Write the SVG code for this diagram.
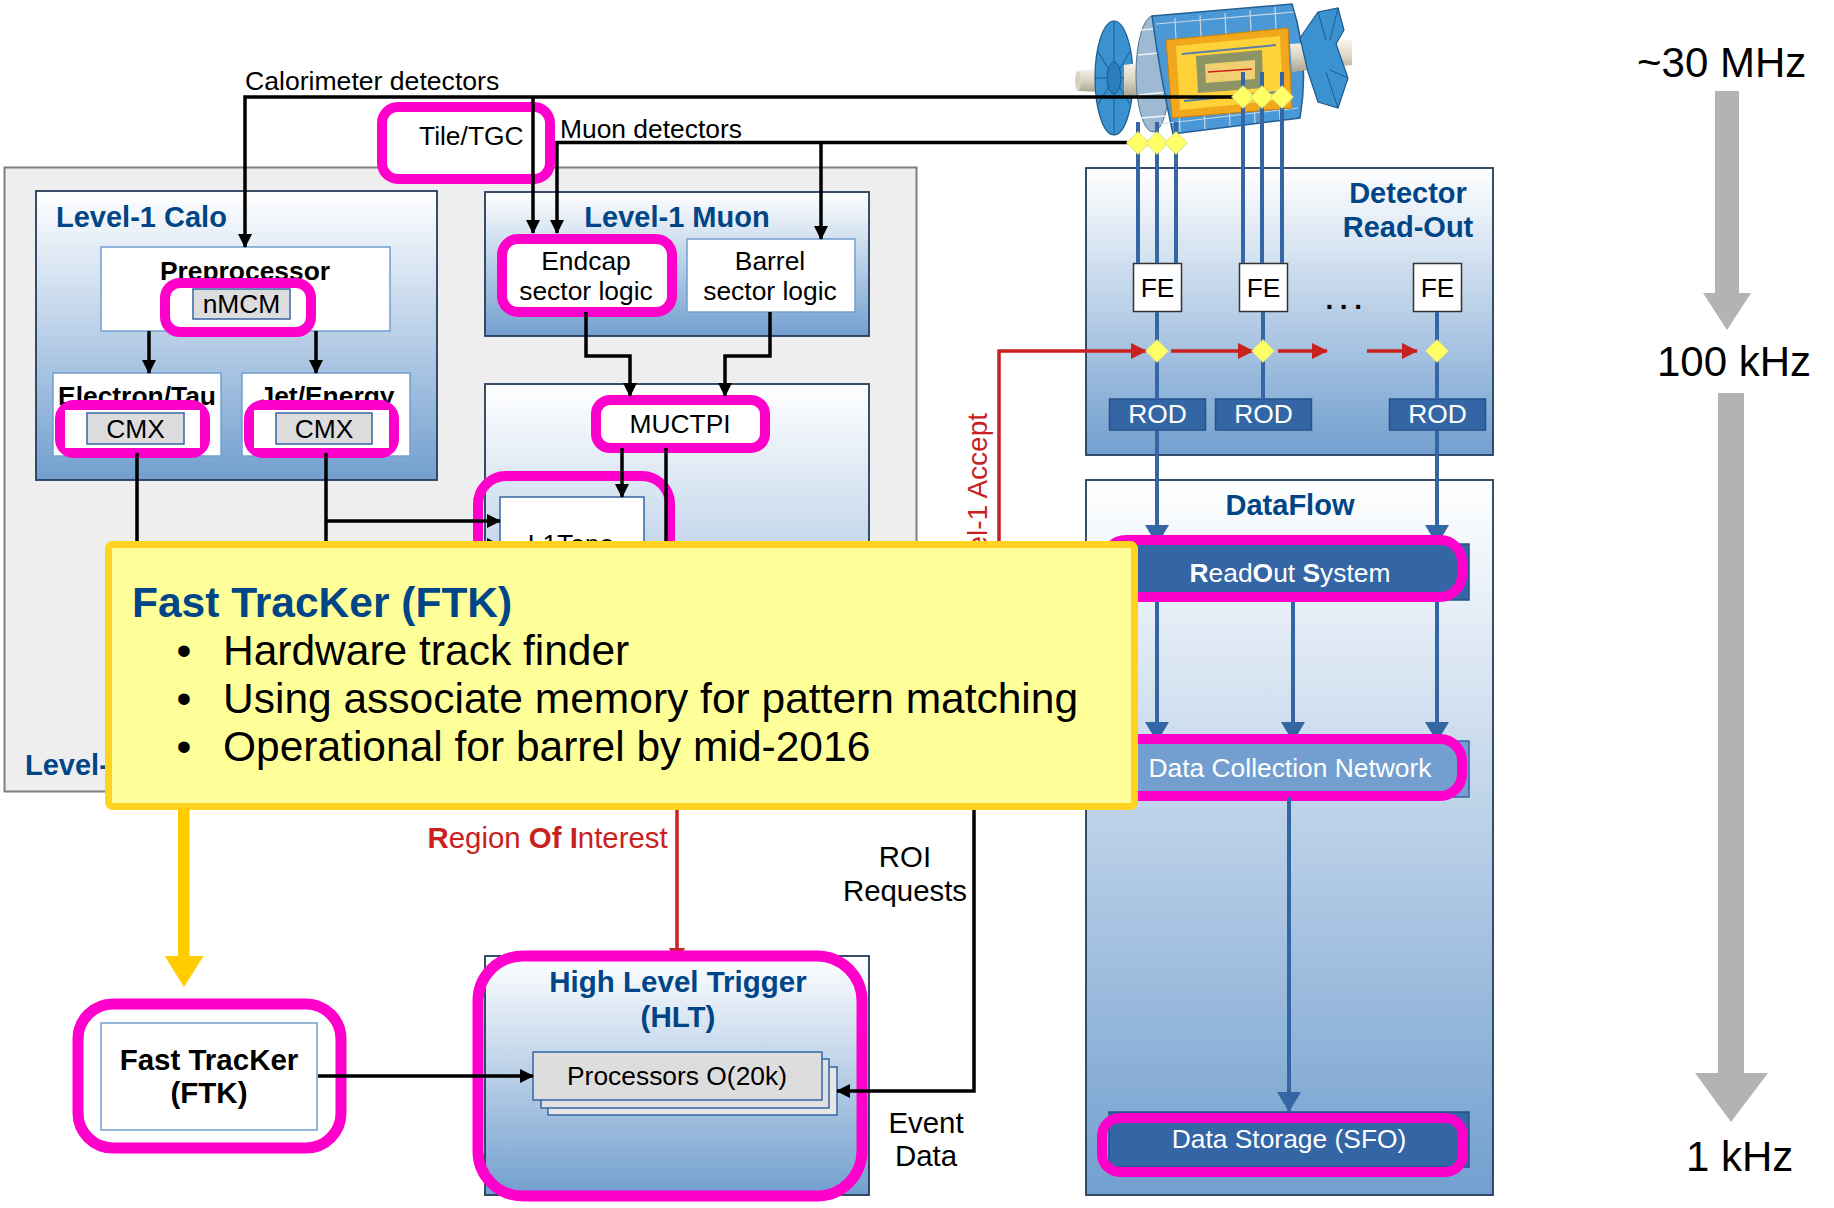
<svg xmlns="http://www.w3.org/2000/svg" width="1834" height="1208" viewBox="0 0 1834 1208">
<defs>
  <style>
    text { font-family: 'Liberation Sans', Arial, sans-serif; }
    .lbl { font-size: 26.4px; fill: #000; }
    .lbl28 { font-size: 29.4px; fill: #000; }
    .title { font-size: 29px; font-weight: bold; fill: #004586; }
    .mid { text-anchor: middle; }
    .b { font-weight: bold; }
    .white { fill: #ffffff; }
    .red { fill: #c9211e; }
    .container { fill: url(#boxGrad); stroke: #253b59; stroke-width: 1.8; }
    .inner { fill: #ffffff; stroke: #729fcf; stroke-width: 1.5; }
    .chip { fill: #dddddd; stroke: #3465a4; stroke-width: 1.5; }
    .hl { fill: none; stroke: #ff00cc; stroke-width: 10; }
    .hlw { fill: #ffffff; stroke: #ff00cc; stroke-width: 10; }
    .dark { fill: #3465a4; stroke: #24528c; stroke-width: 1.5; }
    .light { fill: #729fcf; stroke: #3465a4; stroke-width: 1.5; }
    .wire { fill: none; stroke: #000000; stroke-width: 3.5; }
    .wire-red { fill: none; stroke: #c9211e; stroke-width: 3.5; }
    .wire-blue { fill: none; stroke: #3465a4; stroke-width: 4; }
    .rate { font-size: 42px; fill: #000; }
    .callout { font-size: 42.5px; fill: #000; }
  </style>
  <linearGradient id="boxGrad" x1="0" y1="0" x2="0" y2="1">
    <stop offset="0" stop-color="#ffffff"/>
    <stop offset="1" stop-color="#729fcf"/>
  </linearGradient>
  <linearGradient id="pipeGrad" x1="0" y1="0" x2="0" y2="1">
    <stop offset="0" stop-color="#f7f4ea"/>
    <stop offset="0.5" stop-color="#ddd7c6"/>
    <stop offset="1" stop-color="#aaa491"/>
  </linearGradient>
  <marker id="arrowBlack" markerUnits="userSpaceOnUse" markerWidth="14" markerHeight="14" viewBox="0 0 14 14" refX="13" refY="7" orient="auto">
    <path d="M0,0 L14,7 L0,14 Z" fill="#000000"/>
  </marker>
  <marker id="arrowBlue" markerUnits="userSpaceOnUse" markerWidth="20" markerHeight="24" viewBox="0 0 20 24" refX="19" refY="12" orient="auto">
    <path d="M0,0 L20,12 L0,24 Z" fill="#3465a4"/>
  </marker>
  <marker id="arrowRed" markerUnits="userSpaceOnUse" markerWidth="16" markerHeight="16" viewBox="0 0 16 16" refX="15" refY="8" orient="auto">
    <path d="M0,0 L16,8 L0,16 Z" fill="#c9211e"/>
  </marker>
  <polygon id="diamond" points="0,-11.5 11.5,0 0,11.5 -11.5,0" fill="#ffff66" stroke="#d4d48c" stroke-width="0.8"/>
</defs>

<rect width="1834" height="1208" fill="#ffffff"/>

<!-- Level-1 trigger area -->
<g id="level1">
  <rect x="4.5" y="167.5" width="912" height="624" fill="#eeeeee" stroke="#7f7f7f" stroke-width="2"/>
  <text class="title" x="25" y="775">Level-</text>
</g>

<g id="level1-calo">
  <rect class="container" x="36" y="191" width="401" height="289"/>
  <text class="title" x="56" y="227">Level-1 Calo</text>
</g>

<g id="level1-muon">
  <rect class="container" x="485" y="192" width="384" height="144"/>
  <text class="title mid" x="677" y="227">Level-1 Muon</text>
</g>

<g id="central-area">
  <rect class="container" x="485" y="384" width="384" height="390"/>
</g>

<g id="detector-readout">
  <rect class="container" x="1086" y="168" width="407" height="287"/>
  <text class="title mid" x="1408" y="203">Detector</text>
  <text class="title mid" x="1408" y="237">Read-Out</text>
</g>

<g id="dataflow">
  <rect class="container" x="1086" y="480" width="407" height="715"/>
  <text class="title mid" x="1290" y="515">DataFlow</text>
</g>

<!-- ATLAS detector drawing -->
<g id="atlas-detector">
  <path d="M1078,71 L1102,68 L1102,92 L1078,91 Z" fill="url(#pipeGrad)"/>
  <ellipse cx="1078" cy="81" rx="3" ry="10" fill="#d8d3c2"/>
  <ellipse cx="1114" cy="78" rx="19" ry="57" fill="#3a93d0" stroke="#1d5a8c" stroke-width="1.2"/>
  <path d="M1114,21 L1114,135 M1097,50 L1131,106 M1097,106 L1131,50 M1095,78 L1133,78" stroke="#1d5a8c" stroke-width="1" fill="none"/>
  <ellipse cx="1114" cy="78" rx="7" ry="16" fill="#2b7dbd" stroke="#1d5a8c"/>
  <path d="M1124,65 L1146,62 L1146,95 L1124,96 Z" fill="url(#pipeGrad)"/>
  <ellipse cx="1153" cy="74" rx="17" ry="58" fill="#9dbad2" stroke="#4f7595" stroke-width="1"/>
  <path d="M1140,30 L1166,28 M1138,55 L1168,52 M1138,95 L1168,92 M1141,118 L1165,116" stroke="#eef3f7" stroke-width="1.5" fill="none"/>
  <path d="M1152,16 L1292,4 Q1310,60 1300,118 L1173,134 Q1160,75 1152,16 Z" fill="#4a98d6" stroke="#245f92" stroke-width="1.5"/>
  <path d="M1156,24 L1294,12 M1160,124 L1298,108 M1175,18 L1180,132 M1200,15 L1205,129 M1225,13 L1230,126 M1250,10 L1255,123 M1275,7 L1280,120" stroke="#c9d6e2" stroke-width="1.2" fill="none"/>
  <path d="M1166,40 L1288,28 L1292,108 L1172,118 Z" fill="#f2a81d" stroke="#c98010" stroke-width="1"/>
  <path d="M1176,46 L1280,36 L1283,100 L1180,110 Z" fill="#ffd23a"/>
  <path d="M1182,54 L1276,45 M1184,101 L1278,92" stroke="#5a7fa8" stroke-width="2" fill="none"/>
  <path d="M1196,56 L1262,50 L1263,88 L1198,93 Z" fill="#8d9566"/>
  <path d="M1205,64 L1255,60 L1255,79 L1206,83 Z" fill="#f0d070"/>
  <line x1="1208" y1="72" x2="1252" y2="69" stroke="#d02020" stroke-width="1.5"/>
  <path d="M1290,44 L1352,40 L1352,65 L1292,72 Z" fill="url(#pipeGrad)"/>
  <path d="M1312,40 L1330,39 L1330,70 L1312,72 Z" fill="#e6e1d2" stroke="#b8b2a0" stroke-width="1"/>
  <path d="M1300,38 L1318,12 L1338,8 L1344,30 L1336,44 L1348,78 L1338,108 L1318,102 L1308,72 Z" fill="#3a93d0" stroke="#1d5a8c" stroke-width="1.2"/>
  <path d="M1318,12 L1326,40 M1338,8 L1330,40 M1348,78 L1330,70 M1338,108 L1326,72" stroke="#1d5a8c" stroke-width="1" fill="none"/>
</g>

<!-- arrows that run beneath the highlight outlines -->
<g id="connectors-under">
  <path class="wire-red" d="M677,810 V963" marker-end="url(#arrowRed)"/>
  <path class="wire-blue" d="M1157,430 V544" marker-end="url(#arrowBlue)"/>
  <path class="wire-blue" d="M1437,430 V544" marker-end="url(#arrowBlue)"/>
  <path class="wire-blue" d="M1157,600 V741" marker-end="url(#arrowBlue)"/>
  <path class="wire-blue" d="M1293,600 V741" marker-end="url(#arrowBlue)"/>
  <path class="wire-blue" d="M1437,600 V741" marker-end="url(#arrowBlue)"/>
</g>

<!-- nodes -->
<g id="tile-tgc">
  <rect class="hlw" x="382" y="107" width="168" height="72" rx="16"/>
  <text class="lbl" x="419" y="145">Tile/TGC</text>
</g>

<g id="preprocessor">
  <rect class="inner" x="101" y="247" width="289" height="84"/>
  <text class="lbl b mid" x="245" y="280">Preprocessor</text>
  <rect class="chip" x="193" y="289" width="97" height="30"/>
  <text class="lbl mid" x="241.5" y="313">nMCM</text>
  <rect class="hl" x="165" y="283" width="146" height="49" rx="15"/>
</g>

<g id="electron-tau">
  <rect class="inner" x="53" y="373" width="168" height="83"/>
  <text class="lbl b mid" x="137" y="405">Electron/Tau</text>
  <rect class="hl" x="60" y="405" width="145" height="48" rx="14"/>
  <rect x="65" y="410" width="135" height="38" fill="#ffffff"/>
  <rect class="chip" x="87" y="413" width="97" height="31"/>
  <text class="lbl mid" x="135.5" y="438">CMX</text>
</g>

<g id="jet-energy">
  <rect class="inner" x="242" y="373" width="168" height="83"/>
  <text class="lbl b mid" x="327" y="405">Jet/Energy</text>
  <rect class="hl" x="249" y="405" width="145" height="48" rx="14"/>
  <rect x="254" y="410" width="135" height="38" fill="#ffffff"/>
  <rect class="chip" x="276" y="413" width="96" height="31"/>
  <text class="lbl mid" x="324" y="438">CMX</text>
</g>

<g id="endcap">
  <rect class="hlw" x="502" y="239" width="170" height="73" rx="16"/>
  <text class="lbl mid" x="586" y="270">Endcap</text>
  <text class="lbl mid" x="586" y="300">sector logic</text>
</g>

<g id="barrel">
  <rect class="inner" x="687" y="239" width="168" height="73"/>
  <text class="lbl mid" x="770" y="270">Barrel</text>
  <text class="lbl mid" x="770" y="300">sector logic</text>
</g>

<g id="muctpi">
  <rect class="hlw" x="596" y="400" width="169" height="48" rx="14"/>
  <text class="lbl mid" x="680" y="433">MUCTPI</text>
</g>

<g id="l1topo">
  <rect class="inner" x="500" y="497" width="144" height="90" style="stroke:#3465a4"/>
  <text class="lbl mid" x="571" y="553">L1Topo</text>
  <rect class="hl" x="478" y="476" width="192" height="130" rx="28"/>
</g>

<g id="fe-1"><rect x="1133.5" y="263.5" width="48" height="48" fill="#fff" stroke="#333" stroke-width="1.5"/><text class="lbl mid" x="1157.5" y="297">FE</text></g>
<g id="fe-2"><rect x="1239.5" y="263.5" width="48" height="48" fill="#fff" stroke="#333" stroke-width="1.5"/><text class="lbl mid" x="1263.5" y="297">FE</text></g>
<g id="fe-3"><rect x="1413.5" y="263.5" width="48" height="48" fill="#fff" stroke="#333" stroke-width="1.5"/><text class="lbl mid" x="1437.5" y="297">FE</text></g>
<text class="b" x="1347" y="309" font-size="28" text-anchor="middle" letter-spacing="6.5">...</text>

<g id="rod-1"><rect class="dark" x="1109.5" y="399" width="96" height="31"/><text class="lbl mid white" x="1157.5" y="423">ROD</text></g>
<g id="rod-2"><rect class="dark" x="1215.5" y="399" width="96" height="31"/><text class="lbl mid white" x="1263.5" y="423">ROD</text></g>
<g id="rod-3"><rect class="dark" x="1389.5" y="399" width="96" height="31"/><text class="lbl mid white" x="1437.5" y="423">ROD</text></g>

<g id="readout-system">
  <rect class="dark" x="1109" y="544" width="360" height="56"/>
  <text class="lbl mid white" x="1290" y="582"><tspan class="b">R</tspan>ead<tspan class="b">O</tspan>ut <tspan class="b">S</tspan>ystem</text>
  <rect class="hl" x="1104" y="540" width="358" height="57" rx="22"/>
</g>

<g id="data-collection-network">
  <rect class="light" x="1109" y="741" width="360" height="56"/>
  <text class="lbl mid white" x="1290" y="777">Data Collection Network</text>
  <rect class="hl" x="1104" y="739" width="358" height="57" rx="22"/>
</g>

<g id="data-storage">
  <rect class="dark" x="1109" y="1112" width="360" height="55"/>
  <text class="lbl mid white" x="1289" y="1148">Data Storage (SFO)</text>
  <rect class="hl" x="1102" y="1118" width="361" height="54" rx="18"/>
</g>

<g id="hlt">
  <rect class="container" x="485" y="956" width="384" height="239"/>
  <text class="b mid" x="678" y="992" font-size="29.5" fill="#004586">High Level Trigger</text>
  <text class="b mid" x="678" y="1027" font-size="29.5" fill="#004586">(HLT)</text>
  <rect x="548" y="1067" width="289" height="48" fill="#e6e6e6" stroke="#3465a4" stroke-width="1.5"/>
  <rect x="541" y="1059" width="288" height="49" fill="#e0e0e0" stroke="#3465a4" stroke-width="1.5"/>
  <rect class="chip" x="533" y="1052" width="289" height="48"/>
  <text class="lbl mid" x="677" y="1085">Processors O(20k)</text>
  <rect class="hl" x="478" y="956" width="384" height="240" rx="45" style="stroke-width:11"/>
</g>

<g id="ftk">
  <rect class="hlw" x="78" y="1004" width="263" height="144" rx="35" style="stroke-width:11"/>
  <rect class="inner" x="101" y="1023" width="216" height="107"/>
  <text class="b mid" x="209" y="1070" font-size="29.5">Fast TracKer</text>
  <text class="b mid" x="209" y="1103" font-size="29.5">(FTK)</text>
</g>

<!-- signal paths -->
<g id="connectors">
  <path class="wire" d="M1233,97 H245 V247" marker-end="url(#arrowBlack)"/>
  <path class="wire" d="M533,97 V233" marker-end="url(#arrowBlack)"/>
  <path class="wire" d="M1127,142.5 H557 V233" marker-end="url(#arrowBlack)"/>
  <path class="wire" d="M821,142.5 V239" marker-end="url(#arrowBlack)"/>
  <path class="wire" d="M149,331 V373" marker-end="url(#arrowBlack)"/>
  <path class="wire" d="M316,331 V373" marker-end="url(#arrowBlack)"/>
  <path class="wire" d="M137,453 V545 H500" marker-end="url(#arrowBlack)"/>
  <path class="wire" d="M326,453 V541"/>
  <path class="wire" d="M326,521 H500" marker-end="url(#arrowBlack)"/>
  <path class="wire" d="M586,312 V356 H630 V396" marker-end="url(#arrowBlack)"/>
  <path class="wire" d="M770,312 V356 H725 V396" marker-end="url(#arrowBlack)"/>
  <path class="wire" d="M622,448 V497" marker-end="url(#arrowBlack)"/>
  <path class="wire" d="M666,448 V541"/>
  <path class="wire" d="M318,1076 H533" marker-end="url(#arrowBlack)"/>
  <path class="wire" d="M974,810 V1091 H837" marker-end="url(#arrowBlack)"/>

  <path class="wire-red" d="M999,541 V351 H1146" marker-end="url(#arrowRed)"/>
  <path class="wire-red" d="M1171,351 H1253" marker-end="url(#arrowRed)"/>
  <path class="wire-red" d="M1278,351 H1327" marker-end="url(#arrowRed)"/>
  <path class="wire-red" d="M1367,351 H1417" marker-end="url(#arrowRed)"/>

  <path class="wire-blue" d="M1243,72 V263 M1262,72 V263 M1282,72 V263"/>
  <path class="wire-blue" d="M1138,122 V263 M1157,122 V263 M1176,122 V263"/>
  <path class="wire-blue" d="M1157,312 V399 M1263,312 V399 M1437,312 V399"/>
  <path class="wire-blue" d="M1289,797 V1111" marker-end="url(#arrowBlue)"/>

  <use href="#diamond" x="1243" y="97"/>
  <use href="#diamond" x="1262" y="97"/>
  <use href="#diamond" x="1282" y="97"/>
  <use href="#diamond" x="1138" y="143"/>
  <use href="#diamond" x="1157" y="143"/>
  <use href="#diamond" x="1176" y="143"/>
  <use href="#diamond" x="1157" y="351"/>
  <use href="#diamond" x="1263" y="351"/>
  <use href="#diamond" x="1437" y="351"/>
</g>

<!-- connector labels -->
<g id="labels">
  <text class="lbl" x="245" y="90" style="font-size:26.6px">Calorimeter detectors</text>
  <text class="lbl" x="560" y="138">Muon detectors</text>
  <text class="lbl28 red" transform="translate(987,413) rotate(-90)" text-anchor="end" style="font-size:28px">Level-1 Accept</text>
  <text class="lbl28 red" x="427.5" y="848"><tspan class="b">R</tspan>egion <tspan class="b">Of</tspan> <tspan class="b">I</tspan>nterest</text>
  <text class="lbl28 mid" x="905" y="867">ROI</text>
  <text class="lbl28 mid" x="905" y="901">Requests</text>
  <text class="lbl28 mid" x="926" y="1133">Event</text>
  <text class="lbl28 mid" x="926" y="1166">Data</text>
</g>

<!-- FTK callout -->
<g id="ftk-callout">
  <rect x="108.5" y="544.5" width="1026" height="262" rx="4" fill="#ffff99" stroke="#ffd320" stroke-width="7"/>
  <text x="132" y="617" font-size="42.5" font-weight="bold" fill="#004586">Fast TracKer (FTK)</text>
  <text class="callout" x="184" y="665" text-anchor="middle">•</text>
  <text class="callout" x="223" y="665">Hardware track finder</text>
  <text class="callout" x="184" y="713" text-anchor="middle">•</text>
  <text class="callout" x="223" y="713">Using associate memory for pattern matching</text>
  <text class="callout" x="184" y="761" text-anchor="middle">•</text>
  <text class="callout" x="223" y="761">Operational for barrel by mid-2016</text>
  <path d="M178,808 H189.5 V956 H203.6 L184,987 L164.6,956 H178 Z" fill="#ffcc00"/>
</g>

<!-- event rates -->
<g id="rates">
  <text class="rate" x="1637" y="77">~30 MHz</text>
  <path d="M1715,91 H1739 V293 H1751 L1727,330 L1703,293 H1715 Z" fill="#b3b3b3"/>
  <text class="rate" x="1657" y="376">100 kHz</text>
  <path d="M1718,393 H1744 V1073 H1768 L1731,1122 L1695,1073 H1718 Z" fill="#b3b3b3"/>
  <text class="rate" x="1686" y="1171">1 kHz</text>
</g>
</svg>
